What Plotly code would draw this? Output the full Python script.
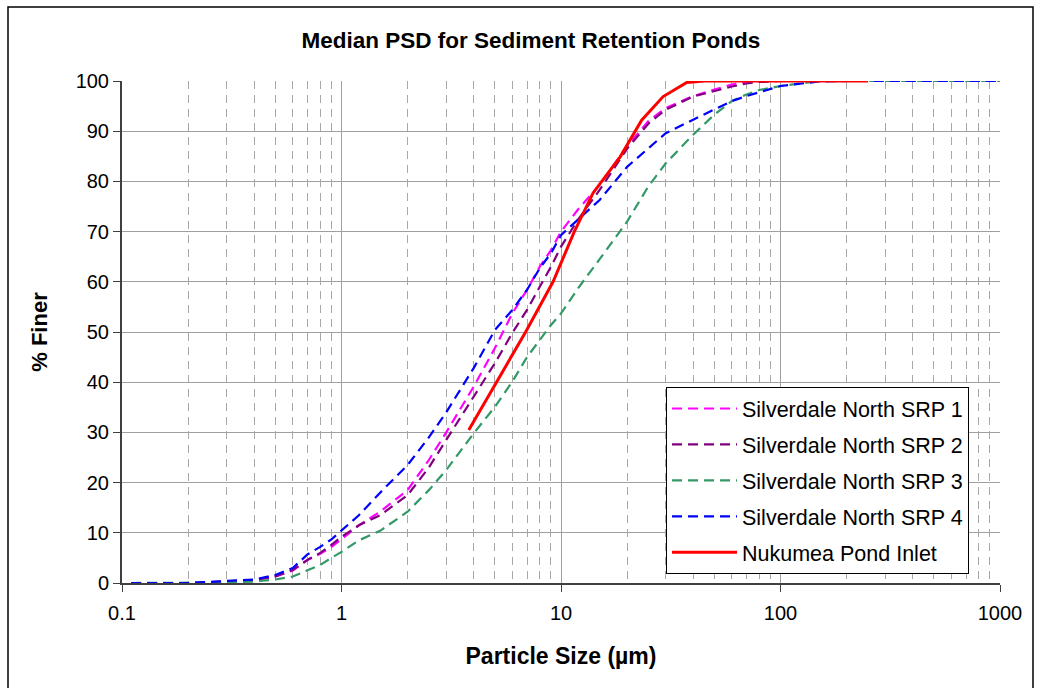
import plotly.graph_objects as go

# ---------------- data ----------------
sizes = [0.11, 0.2, 0.3, 0.4, 0.5, 0.6, 0.7, 0.8, 0.9, 1.0, 1.2, 1.5, 2, 2.5, 3, 4, 5, 6, 7, 8, 9,
         10, 12, 15, 20, 25, 30, 40, 50, 60, 70, 80, 100, 150, 200, 1000]

srp1 = [0, 0, 0.3, 0.6, 1.3, 2.5, 4.6, 5.8, 7.2, 8.7, 11.5, 14.2, 18.5, 24.5, 30, 39.1, 46.8, 53.7, 58.4, 63, 66.3,
        70, 74.5, 79.3, 87, 92, 94.6, 97, 98.3, 99.3, 99.8, 100, 100, 100, 100, 100]
srp2 = [0, 0, 0.3, 0.6, 1.3, 2.6, 4.6, 6.0, 7.6, 9.2, 11.5, 13.5, 17.5, 23, 28.5, 37.1, 43.8, 49.8, 54.4, 59, 63,
        67, 72.5, 78.3, 86.5, 91.5, 94.3, 96.9, 98, 98.9, 99.5, 99.8, 100, 100, 100, 100]
srp3 = [0, 0, 0.1, 0.3, 0.7, 1.3, 2.5, 3.6, 5.0, 6.2, 8.5, 10.4, 14.2, 18.5, 22.5, 29.8, 35.1, 40.1, 45, 48.4, 51.4,
        53.7, 58.8, 64.5, 72, 79, 83.6, 89.3, 93.3, 96, 97.3, 98.2, 99, 100, 100, 100]
srp4 = [0, 0, 0.4, 0.7, 1.6, 3.0, 5.7, 7.2, 8.7, 10.5, 13.5, 18.0, 23.5, 29, 34, 42.8, 50.4, 54.4, 58.4, 62.7, 65.7,
        69.3, 72.5, 76.3, 82.9, 86.6, 89.6, 92.3, 94.3, 96, 97, 97.7, 99, 99.9, 100, 100]

nukumea_sizes = [3.8, 5.1, 6.9, 9.2, 11.5, 14.0, 18.6, 23.3, 29.2, 37.4, 45, 250]
nukumea = [30.5, 40, 50, 60, 70, 77.7, 84.9, 92.2, 96.9, 99.7, 100, 100]

series_names = ["Silverdale North SRP 1", "Silverdale North SRP 2",
                "Silverdale North SRP 3", "Silverdale North SRP 4", "Nukumea Pond Inlet"]

x_tickvals = [0.1, 1, 10, 100, 1000]
x_ticktext = ["0.1", "1", "10", "100", "1000"]
y_tickvals = list(range(0, 101, 10))

# ---------------- figure ----------------
FONT = "Liberation Sans, Arial, sans-serif"
DASH = "10px,6px"

fig = go.Figure()
dashed = [(srp1, "#FF00FF"), (srp2, "#800080"), (srp3, "#339966"), (srp4, "#0000FF")]
for i, (vals, col) in enumerate(dashed):
    fig.add_trace(go.Scatter(x=sizes, y=vals, mode="lines", name=series_names[i],
                             legendgroup=f"g{i}",
                             line=dict(color=col, width=2.2, dash=DASH)))
fig.add_trace(go.Scatter(x=nukumea_sizes, y=nukumea, mode="lines", name=series_names[4],
                         legendgroup="g4", line=dict(color="#FF0000", width=3)))

fig.update_layout(
    width=1039, height=688,
    paper_bgcolor="white", plot_bgcolor="white",
    margin=dict(l=122, r=39, t=81, b=105),
    font=dict(family=FONT, color="#000000", size=20),
    title=dict(text="Median PSD for Sediment Retention Ponds", x=0.511, xanchor="center",
               y=1 - 40 / 688, yanchor="middle",
               font=dict(size=22.5, weight="bold", family=FONT, color="#000")),
    showlegend=True,
    legend=dict(x=(666 - 122) / 878, y=(583 - 387) / 502, xanchor="left", yanchor="top",
                bgcolor="white", bordercolor="#000000", borderwidth=1,
                font=dict(size=21.5, family=FONT, color="#000"),
                tracegroupgap=5, traceorder="grouped", itemwidth=65),
)

fig.update_xaxes(
    type="log", range=[-1, 3],
    tickmode="array", tickvals=x_tickvals, ticktext=x_ticktext,
    ticks="outside", ticklen=7, tickcolor="#404040",
    showgrid=True, gridcolor="#A0A0A0", gridwidth=1,
    showline=True, linecolor="#404040", linewidth=2,
    minor=dict(dtick="D1", showgrid=True, gridcolor="#A8A8A8", griddash="8px,6px", gridwidth=1, ticks=""),
    tickfont=dict(size=20), ticklabelstandoff=4,
    title=dict(text="Particle Size (µm)", font=dict(size=23, weight="bold"), standoff=25),
    zeroline=False,
)
fig.update_yaxes(
    range=[0, 100], tickmode="array", tickvals=y_tickvals,
    ticks="outside", ticklen=7, tickcolor="#404040",
    showgrid=True, gridcolor="#A0A0A0", gridwidth=1,
    showline=True, linecolor="#404040", linewidth=2,
    tickfont=dict(size=20),
    title=dict(text="% Finer", font=dict(size=22, weight="bold"), standoff=22),
    zeroline=False,
)

# outer chart border
fig.add_shape(type="rect", xref="paper", yref="paper",
              x0=(8 - 122) / 878, x1=(1033 - 122) / 878,
              y0=(583 - 700) / 502, y1=(583 - 7) / 502,
              line=dict(color="#000000", width=1.5), fillcolor="rgba(0,0,0,0)", layer="below")

fig.write_html("out.html")
